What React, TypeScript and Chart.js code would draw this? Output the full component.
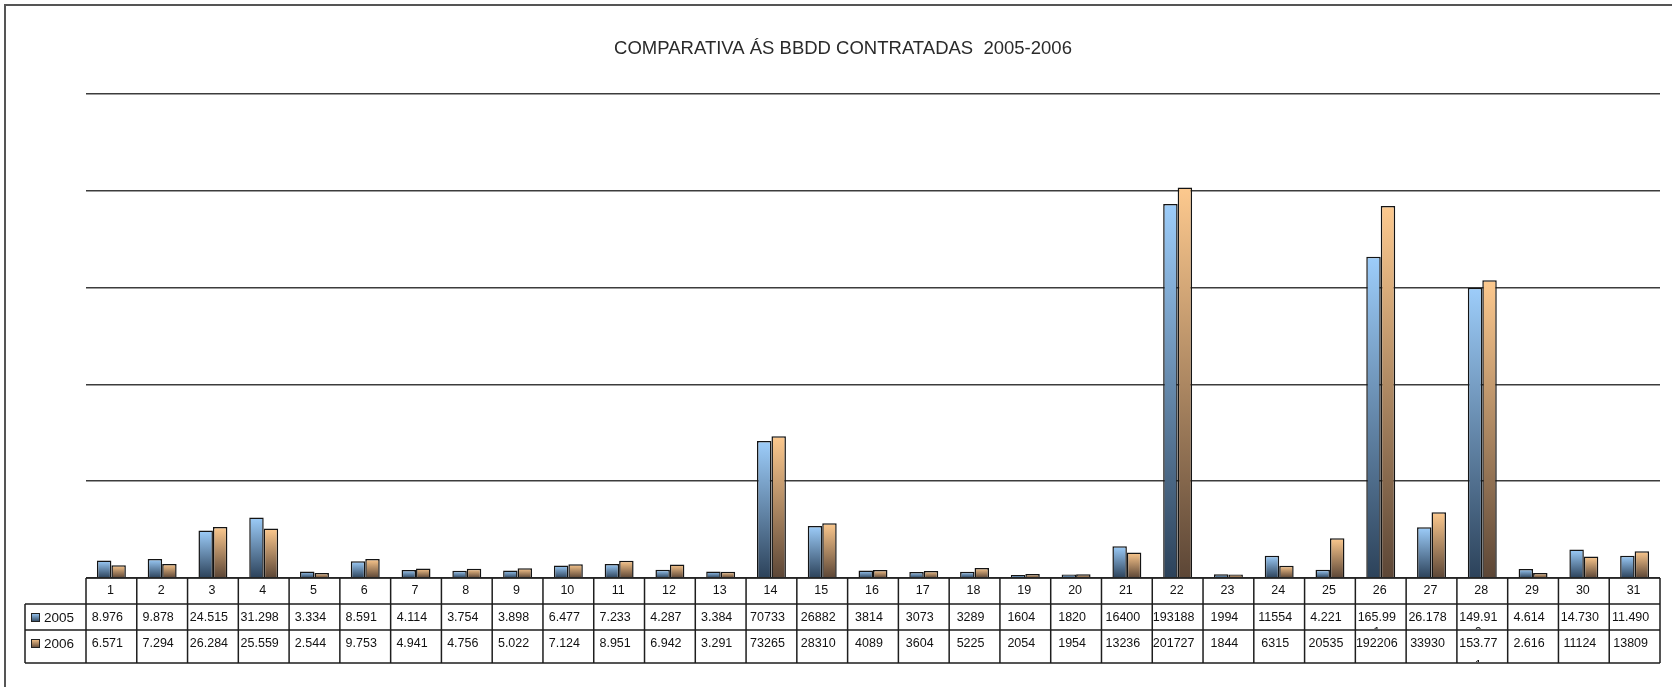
import React, { useEffect, useRef } from "react";
import { Chart, registerables } from "chart.js";

Chart.register(...registerables);

const TITLE = "COMPARATIVA ÁS BBDD CONTRATADAS  2005-2006";

const categories = [
  "1", "2", "3", "4", "5", "6", "7", "8", "9", "10",
  "11", "12", "13", "14", "15", "16", "17", "18", "19", "20",
  "21", "22", "23", "24", "25", "26", "27", "28", "29", "30", "31",
];

const seriesNames = ["2005", "2006"];

const values2005 = [
  8976, 9878, 24515, 31298, 3334, 8591, 4114, 3754, 3898, 6477,
  7233, 4287, 3384, 70733, 26882, 3814, 3073, 3289, 1604, 1820,
  16400, 193188, 1994, 11554, 4221, 165991, 26178, 149910, 4614, 14730, 11490,
];

const values2006 = [
  6571, 7294, 26284, 25559, 2544, 9753, 4941, 4756, 5022, 7124,
  8951, 6942, 3291, 73265, 28310, 4089, 3604, 5225, 2054, 1954,
  13236, 201727, 1844, 6315, 20535, 192206, 33930, 153771, 2616, 11124, 13809,
];

// table texts as printed in the data table
const labels2005 = [
  "8.976", "9.878", "24.515", "31.298", "3.334", "8.591", "4.114", "3.754", "3.898", "6.477",
  "7.233", "4.287", "3.384", "70733", "26882", "3814", "3073", "3289", "1604", "1820",
  "16400", "193188", "1994", "11554", "4.221", "165.99\n1", "26.178", "149.91\n0", "4.614", "14.730", "11.490",
];

const labels2006 = [
  "6.571", "7.294", "26.284", "25.559", "2.544", "9.753", "4.941", "4.756", "5.022", "7.124",
  "8.951", "6.942", "3.291", "73265", "28310", "4089", "3604", "5225", "2054", "1954",
  "13236", "201727", "1844", "6315", "20535", "192206", "33930", "153.77\n1", "2.616", "11124", "13809",
];

const yMax = 250000;
const yStep = 50000;

const BLUE_TOP = "#9dcdfa";
const BLUE_BOTTOM = "#2c425a";
const ORANGE_TOP = "#fdc98e";
const ORANGE_BOTTOM = "#5c4636";

function gradientFill(light: string, dark: string) {
  return (c: any) => {
    const chart = c.chart;
    const { ctx, chartArea, scales } = chart;
    if (!chartArea || !scales || !scales.y || c.type !== "data") return light;
    const v = c.raw as number;
    const top = scales.y.getPixelForValue(v);
    const bottom = scales.y.getPixelForValue(0);
    if (!isFinite(top) || !isFinite(bottom) || bottom - top < 0.5) return light;
    const g = ctx.createLinearGradient(0, top, 0, bottom);
    g.addColorStop(0, light);
    g.addColorStop(1, dark);
    return g;
  };
}

const tablePlugin = {
  id: "tablePlugin",
  beforeDraw(chart: any) {
    const ctx = chart.ctx;
    ctx.save();
    ctx.fillStyle = "#ffffff";
    ctx.fillRect(0, 0, chart.width, chart.height);
    ctx.strokeStyle = "#555555";
    ctx.lineWidth = 2;
    ctx.strokeRect(5, 5, chart.width + 20, chart.height + 20);
    ctx.restore();
  },
  afterDraw(chart: any) {
    const ctx = chart.ctx;
    const xs = chart.scales.x;
    const area = chart.chartArea;
    const n = categories.length;
    const left = xs.left;
    const right = xs.right;
    const colW = (right - left) / n;
    const headerTop = area.bottom;
    const row1Top = headerTop + 26;
    const row2Top = row1Top + 26;
    const tableBottom = row2Top + 33;
    const legendLeft = 25;

    ctx.save();
    // title
    ctx.fillStyle = "#2a2a2a";
    ctx.font = '18.5px "Liberation Sans", Arial, sans-serif';
    ctx.textAlign = "center";
    ctx.textBaseline = "middle";
    ctx.fillText(TITLE, 843, 49);

    // grid of table
    ctx.strokeStyle = "#1e1e1e";
    ctx.lineWidth = 1.5;
    ctx.beginPath();
    ctx.moveTo(left, headerTop);
    ctx.lineTo(right, headerTop);
    [row1Top, row2Top, tableBottom].forEach((y) => {
      ctx.moveTo(legendLeft, y);
      ctx.lineTo(right, y);
    });
    ctx.moveTo(legendLeft, row1Top);
    ctx.lineTo(legendLeft, tableBottom);
    for (let i = 0; i <= n; i++) {
      const x = left + i * colW;
      ctx.moveTo(x, headerTop);
      ctx.lineTo(x, tableBottom);
    }
    ctx.stroke();

    // header labels
    ctx.fillStyle = "#111111";
    ctx.font = '12.5px "Liberation Sans", Arial, sans-serif';
    ctx.textAlign = "center";
    ctx.textBaseline = "middle";
    for (let i = 0; i < n; i++) {
      const cx = xs.getPixelForValue(i);
      ctx.fillText(categories[i], cx - 1, headerTop + 12.5);
    }

    // data rows
    const rows = [
      { labels: labels2005, top: row1Top, bottom: row2Top },
      { labels: labels2006, top: row2Top, bottom: tableBottom },
    ];
    rows.forEach((r, ri) => {
      for (let i = 0; i < n; i++) {
        const cx = xs.getPixelForValue(i);
        const x0 = left + i * colW;
        const lines = r.labels[i].split("\n");
        ctx.save();
        ctx.beginPath();
        ctx.rect(x0 + 1, r.top + 1, colW - 2, r.bottom - r.top - 2);
        ctx.clip();
        lines.forEach((ln, k) => {
          const baseY = r.top + (ri === 0 ? 13.5 : 14);
          const y = k === 0 ? baseY : ri === 0 ? r.bottom + 3 : r.bottom - 2 + 5;
          ctx.fillText(ln, cx - 4, y);
        });
        ctx.restore();
      }
    });

    // legend keys
    const keys = [
      { name: seriesNames[0], top: row1Top, light: BLUE_TOP, dark: BLUE_BOTTOM },
      { name: seriesNames[1], top: row2Top, light: ORANGE_TOP, dark: ORANGE_BOTTOM },
    ];
    keys.forEach((k) => {
      const sy = k.top + 9;
      const g = ctx.createLinearGradient(0, sy, 0, sy + 9);
      g.addColorStop(0, k.light);
      g.addColorStop(1, k.dark);
      ctx.fillStyle = g;
      ctx.fillRect(31, sy, 9, 9);
      ctx.strokeStyle = "#222222";
      ctx.lineWidth = 1;
      ctx.strokeRect(31.5, sy + 0.5, 8, 8);
      ctx.fillStyle = "#111111";
      ctx.font = '13.5px "Liberation Sans", Arial, sans-serif';
      ctx.textAlign = "left";
      ctx.textBaseline = "middle";
      ctx.fillText(k.name, 44, sy + 5);
    });
    ctx.restore();
  },
};

export default function App() {
  const canvasRef = useRef<HTMLCanvasElement | null>(null);

  useEffect(() => {
    document.body.style.margin = "0";
    const canvas = canvasRef.current;
    if (!canvas) return;
    const chart = new Chart(canvas, {
      type: "bar",
      data: {
        labels: categories,
        datasets: [
          {
            label: seriesNames[0],
            data: values2005,
            backgroundColor: gradientFill(BLUE_TOP, BLUE_BOTTOM) as any,
            borderColor: "#141414",
            borderWidth: 1.5,
          },
          {
            label: seriesNames[1],
            data: values2006,
            backgroundColor: gradientFill(ORANGE_TOP, ORANGE_BOTTOM) as any,
            borderColor: "#141414",
            borderWidth: 1.5,
          },
        ],
      },
      options: {
        animation: false,
        responsive: true,
        maintainAspectRatio: false,
        layout: { padding: { left: 86, right: 12, top: 94, bottom: 109 } },
        datasets: {
          bar: { categoryPercentage: 0.57, barPercentage: 1.0 },
        },
        plugins: {
          legend: { display: false },
          title: { display: false },
          tooltip: { enabled: false },
        },
        scales: {
          x: {
            display: false,
            offset: true,
            grid: { display: false },
          },
          y: {
            display: true,
            min: 0,
            max: yMax,
            ticks: { display: false, stepSize: yStep },
            border: { display: false },
            grid: { color: "#3c3c3c", lineWidth: 1.5, drawTicks: false },
          },
        },
      },
      plugins: [tablePlugin],
    });
    return () => chart.destroy();
  }, []);

  return (
    <div style={{ width: 1672, height: 687, position: "relative" }}>
      <canvas ref={canvasRef} />
    </div>
  );
}
